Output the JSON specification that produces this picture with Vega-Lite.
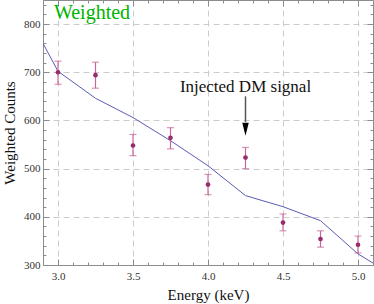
{
  "$schema": "https://vega.github.io/schema/vega-lite/v6.json",
  "width": 330,
  "height": 265,
  "autosize": {"type": "none"},
  "padding": {"left": 43, "top": 0, "right": 1, "bottom": 39},
  "config": {
    "font": "Liberation Serif",
    "view": {"stroke": null},
    "axis": {"labelFont": "Liberation Serif", "titleFont": "Liberation Serif"}
  },
  "datasets": {
    "model": [
      {"E": 2.9, "C": 760},
      {"E": 3.0, "C": 702},
      {"E": 3.25, "C": 646},
      {"E": 3.5, "C": 606},
      {"E": 3.75, "C": 558},
      {"E": 4.0, "C": 506},
      {"E": 4.25, "C": 444},
      {"E": 4.5, "C": 421},
      {"E": 4.75, "C": 392},
      {"E": 5.0, "C": 323},
      {"E": 5.1, "C": 304}
    ],
    "obs": [
      {"E": 3.0, "C": 700, "lo": 675, "hi": 723},
      {"E": 3.25, "C": 694, "lo": 667, "hi": 721},
      {"E": 3.5, "C": 548, "lo": 527, "hi": 571},
      {"E": 3.75, "C": 564, "lo": 541, "hi": 585},
      {"E": 4.0, "C": 467, "lo": 446, "hi": 488},
      {"E": 4.25, "C": 523, "lo": 500, "hi": 544},
      {"E": 4.5, "C": 388, "lo": 371, "hi": 406},
      {"E": 4.75, "C": 354, "lo": 337, "hi": 371},
      {"E": 5.0, "C": 342, "lo": 325, "hi": 360}
    ]
  },
  "resolve": {"axis": {"x": "independent", "y": "independent"}},
  "layer": [
    {
      "data": {"name": "model"},
      "mark": {"type": "line", "color": "#5b5bb5", "strokeWidth": 1, "clip": true},
      "encoding": {
        "x": {"field": "E", "type": "quantitative",
          "scale": {"domain": [2.9, 5.1], "nice": false, "zero": false},
          "axis": {"orient": "bottom", "values": [3.0, 3.5, 4.0, 4.5, 5.0], "format": ".1f",
            "ticks": false, "grid": true, "gridColor": "#cccccc", "gridDash": [6, 4], "gridWidth": 1,
            "domain": true, "domainColor": "#8c8c8c", "domainWidth": 1,
            "labelFontSize": 11, "labelColor": "#333333", "labelPadding": 5,
            "title": "Energy (keV)", "titleFontSize": 15, "titleFontWeight": "normal", "titleColor": "#111111", "titlePadding": 6}},
        "y": {"field": "C", "type": "quantitative",
          "scale": {"domain": [300, 850], "nice": false, "zero": false},
          "axis": {"orient": "left", "values": [300, 400, 500, 600, 700, 800],
            "ticks": false, "grid": true, "gridColor": "#cccccc", "gridDash": [6, 4], "gridWidth": 1,
            "domain": true, "domainColor": "#8c8c8c", "domainWidth": 1,
            "labelFontSize": 11, "labelColor": "#333333", "labelPadding": 3,
            "title": "Weighted Counts", "titleFontSize": 15, "titleFontWeight": "normal", "titleColor": "#111111", "titlePadding": 6}}
      }
    },
    {
      "data": {"name": "model"},
      "mark": {"type": "point", "opacity": 0},
      "encoding": {
        "x": {"field": "E", "type": "quantitative",
          "axis": {"orient": "bottom", "values": [2.9,3.0,3.1,3.2,3.3,3.4,3.5,3.6,3.7,3.8,3.9,4.0,4.1,4.2,4.3,4.4,4.5,4.6,4.7,4.8,4.9,5.0,5.1],
            "labels": false, "grid": false, "domain": false, "title": null, "ticks": true, "tickColor": "#8c8c8c",
            "tickSize": {"condition": {"test": "abs(datum.value*2 - round(datum.value*2)) < 0.01", "value": -6}, "value": -3}}},
        "y": {"field": "C", "type": "quantitative",
          "axis": {"orient": "left", "values": [300,320,340,360,380,400,420,440,460,480,500,520,540,560,580,600,620,640,660,680,700,720,740,760,780,800,820,840],
            "labels": false, "grid": false, "domain": false, "title": null, "ticks": true, "tickColor": "#8c8c8c",
            "tickSize": {"condition": {"test": "datum.value % 100 == 0", "value": -6}, "value": -3}}}
      }
    },
    {
      "data": {"name": "model"},
      "mark": {"type": "point", "opacity": 0},
      "encoding": {
        "x": {"field": "E", "type": "quantitative",
          "axis": {"orient": "top", "values": [2.9,3.0,3.1,3.2,3.3,3.4,3.5,3.6,3.7,3.8,3.9,4.0,4.1,4.2,4.3,4.4,4.5,4.6,4.7,4.8,4.9,5.0,5.1],
            "labels": false, "grid": false, "domain": true, "domainColor": "#8c8c8c", "title": null, "ticks": true, "tickColor": "#8c8c8c",
            "tickSize": {"condition": {"test": "abs(datum.value*2 - round(datum.value*2)) < 0.01", "value": -6}, "value": -3}}},
        "y": {"field": "C", "type": "quantitative",
          "axis": {"orient": "right", "values": [300,320,340,360,380,400,420,440,460,480,500,520,540,560,580,600,620,640,660,680,700,720,740,760,780,800,820,840],
            "labels": false, "grid": false, "domain": true, "domainColor": "#8c8c8c", "title": null, "ticks": true, "tickColor": "#8c8c8c",
            "tickSize": {"condition": {"test": "datum.value % 100 == 0", "value": -6}, "value": -3}}}
      }
    },
    {
      "data": {"name": "obs"},
      "mark": {"type": "rule", "color": "#c8679d", "strokeWidth": 1.2},
      "encoding": {
        "x": {"field": "E", "type": "quantitative", "axis": null},
        "y": {"field": "lo", "type": "quantitative", "axis": null},
        "y2": {"field": "hi"}
      }
    },
    {
      "data": {"name": "obs"},
      "mark": {"type": "tick", "orient": "horizontal", "color": "#c8679d", "size": 7, "thickness": 1.2},
      "encoding": {
        "x": {"field": "E", "type": "quantitative", "axis": null},
        "y": {"field": "lo", "type": "quantitative", "axis": null}
      }
    },
    {
      "data": {"name": "obs"},
      "mark": {"type": "tick", "orient": "horizontal", "color": "#c8679d", "size": 7, "thickness": 1.2},
      "encoding": {
        "x": {"field": "E", "type": "quantitative", "axis": null},
        "y": {"field": "hi", "type": "quantitative", "axis": null}
      }
    },
    {
      "data": {"name": "obs"},
      "mark": {"type": "point", "filled": true, "color": "#962d6c", "size": 22, "opacity": 1},
      "encoding": {
        "x": {"field": "E", "type": "quantitative", "axis": null},
        "y": {"field": "C", "type": "quantitative", "axis": null}
      }
    },
    {
      "data": {"values": [{"E": 2.973, "C": 810, "label": "Weighted"}]},
      "mark": {"type": "text", "align": "left", "baseline": "alphabetic", "fontSize": 20, "color": "#00b300", "font": "Liberation Serif"},
      "encoding": {
        "x": {"field": "E", "type": "quantitative", "axis": null},
        "y": {"field": "C", "type": "quantitative", "axis": null},
        "text": {"field": "label"}
      }
    },
    {
      "data": {"values": [{"E": 4.25, "C": 660, "label": "Injected DM signal"}]},
      "mark": {"type": "text", "align": "center", "baseline": "alphabetic", "fontSize": 17, "color": "#111111", "font": "Liberation Serif"},
      "encoding": {
        "x": {"field": "E", "type": "quantitative", "axis": null},
        "y": {"field": "C", "type": "quantitative", "axis": null},
        "text": {"field": "label"}
      }
    },
    {
      "data": {"values": [{"E": 4.25, "top": 650, "bot": 597}]},
      "mark": {"type": "rule", "color": "#555555", "strokeWidth": 1.5},
      "encoding": {
        "x": {"field": "E", "type": "quantitative", "axis": null},
        "y": {"field": "top", "type": "quantitative", "axis": null},
        "y2": {"field": "bot"}
      }
    },
    {
      "data": {"values": [{"E": 4.25, "C": 582}]},
      "mark": {"type": "point", "shape": "M-0.5,-1L0.5,-1L0,1Z", "filled": true, "color": "#000000", "size": 169, "opacity": 1},
      "encoding": {
        "x": {"field": "E", "type": "quantitative", "axis": null},
        "y": {"field": "C", "type": "quantitative", "axis": null}
      }
    }
  ]
}
